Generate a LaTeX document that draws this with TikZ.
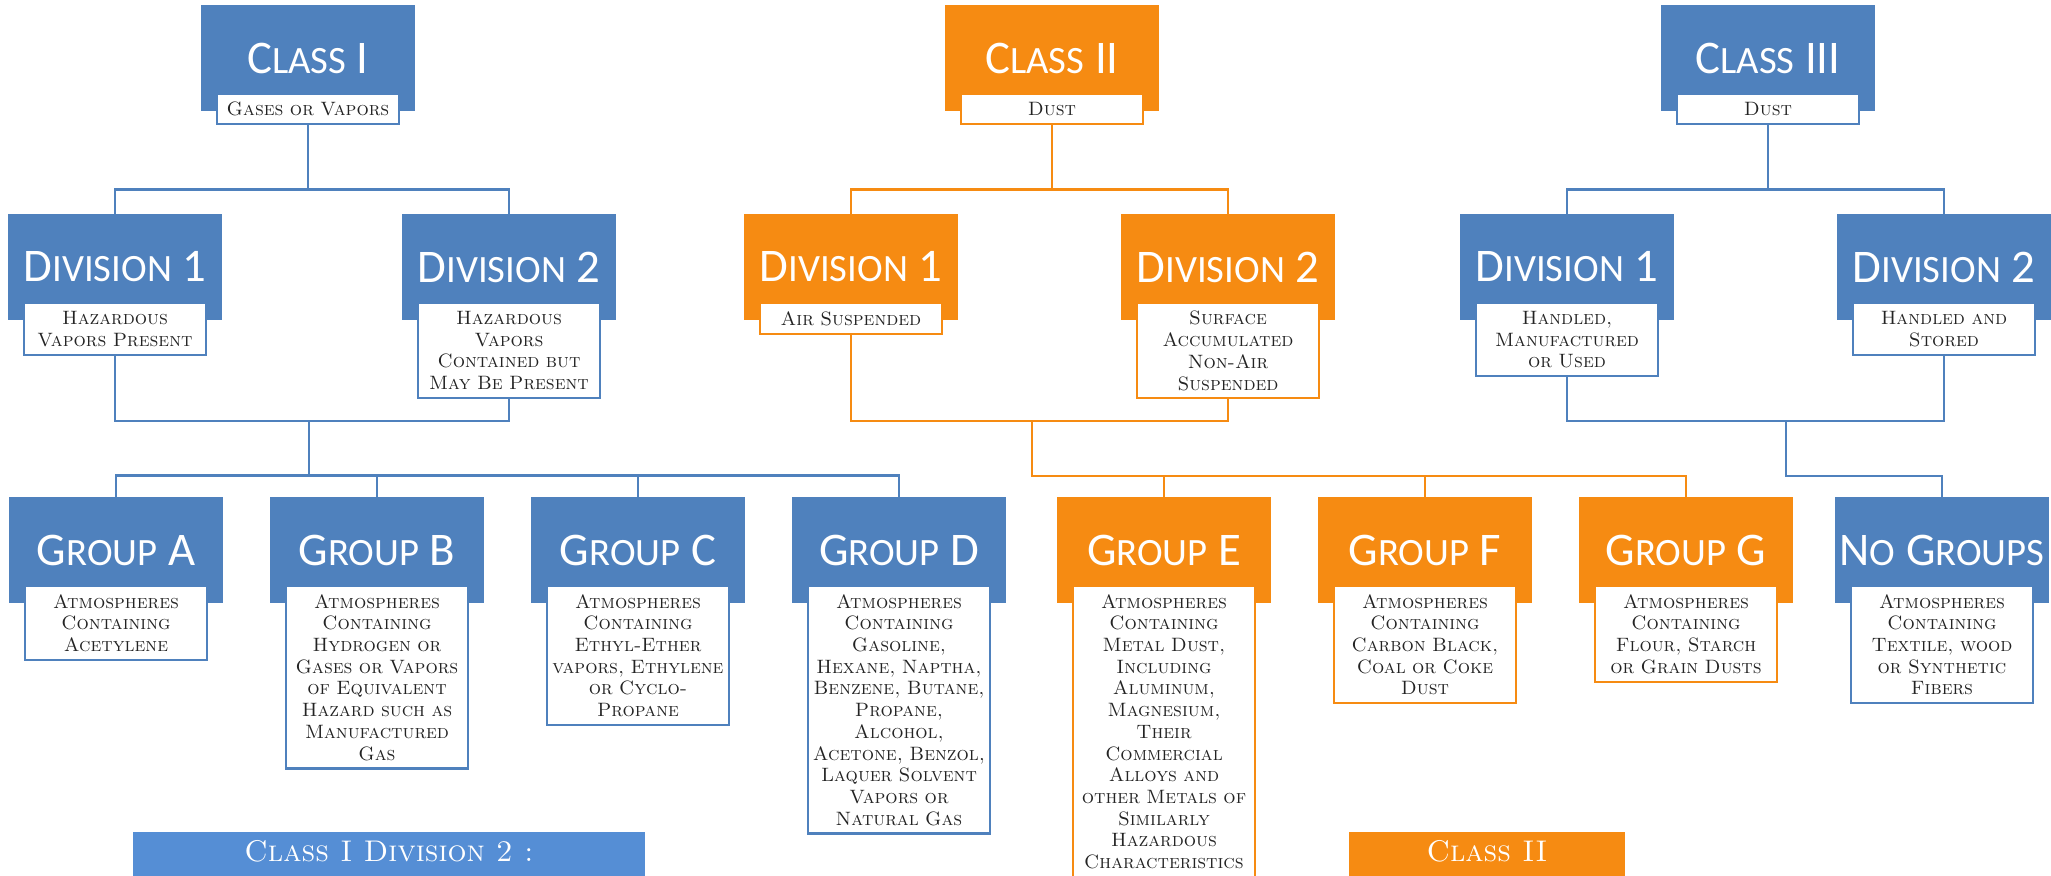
\documentclass[tikz,border=0pt]{standalone}
\usepackage{fontspec}
\newfontfamily\ttlfont{Carlito}
\usetikzlibrary{positioning}
\definecolor{clsblue}{RGB}{79,129,189}
\definecolor{clsorange}{RGB}{246,139,18}
\definecolor{keyblue}{RGB}{85,142,213}
\definecolor{desctext}{RGB}{35,35,35}
\def\lowcap#1{{\fontsize{11}{13}\selectfont\MakeUppercase{#1}}}
\tikzset{
  head/.style={rectangle, fill=#1, text=white, minimum width=2.13cm, minimum height=1.05cm, inner sep=0pt, font=\ttlfont\fontsize{13.3}{15}\selectfont},
  desc/.style={rectangle, fill=white, draw=#1, line width=0.6pt, text width=1.76cm, align=center, inner xsep=0.03cm, inner ysep=0.08cm, text=desctext, font=\fontsize{5.5}{6.17}\selectfont\scshape},
  link/.style={draw=#1, line width=0.8pt},
  keytext/.style={text=white, font=\fontsize{8.5}{9}\selectfont\scshape},
}

\begin{document}
\begin{tikzpicture}[x=0.01cm,y=-0.01cm]
			%%%%% START %%%%%
			\useasboundingbox (0,0) rectangle (2051,876);
			\clip (0,0) rectangle (2051,876);
			
			% classes
			\node[head=clsblue] (c1) at (308,58) {C\lowcap{lass} I};
			\node[desc=clsblue, below=-0.18cm of c1] (c1t) {Gases or Vapors};
			\node[head=clsorange] (c2) at (1052,58) {C\lowcap{lass} II};
			\node[desc=clsorange, below=-0.18cm of c2] (c2t) {Dust};
			\node[head=clsblue] (c3) at (1768,58) {C\lowcap{lass} III};
			\node[desc=clsblue, below=-0.18cm of c3] (c3t) {Dust};
			
			% divisions
			\node[head=clsblue] (c1a) at (115,267) {D\lowcap{ivision} 1};
			\node[desc=clsblue, below=-0.18cm of c1a] (c1at) {Hazardous\\Vapors Present};
			\node[head=clsblue] (c1b) at (509,267) {D\lowcap{ivision} 2};
			\node[desc=clsblue, below=-0.18cm of c1b] (c1bt) {Hazardous\\Vapors\\Contained but\\May Be Present};
			
			\node[head=clsorange] (c2a) at (851,267) {D\lowcap{ivision} 1};
			\node[desc=clsorange, below=-0.18cm of c2a] (c2at) {Air Suspended};
			\node[head=clsorange] (c2b) at (1228,267) {D\lowcap{ivision} 2};
			\node[desc=clsorange, below=-0.18cm of c2b] (c2bt) {Surface\\Accumulated\\Non-Air\\Suspended};
			
			\node[head=clsblue] (c3a) at (1567,267) {D\lowcap{ivision} 1};
			\node[desc=clsblue, below=-0.18cm of c3a] (c3at) {Handled,\\Manufactured\\or Used};
			\node[head=clsblue] (c3b) at (1944,267) {D\lowcap{ivision} 2};
			\node[desc=clsblue, below=-0.18cm of c3b] (c3bt) {Handled and\\Stored};
			
			% groups
			\node[head=clsblue] (ga) at (116,550) {G\lowcap{roup} A};
			\node[desc=clsblue, below=-0.18cm of ga] (gat) {Atmospheres\\Containing\\Acetylene};
			\node[head=clsblue] (gb) at (377,550) {G\lowcap{roup} B};
			\node[desc=clsblue, below=-0.18cm of gb] (gbt) {Atmospheres\\Containing\\Hydrogen or\\Gases or Vapors\\of Equivalent\\Hazard such as\\Manufactured\\Gas};
			\node[head=clsblue] (gc) at (638,550) {G\lowcap{roup} C};
			\node[desc=clsblue, below=-0.18cm of gc] (gct) {Atmospheres\\Containing\\Ethyl-Ether\\vapors, Ethylene\\or Cyclo-\\Propane};
			\node[head=clsblue] (gd) at (899,550) {G\lowcap{roup} D};
			\node[desc=clsblue, below=-0.18cm of gd] (gdt) {Atmospheres\\Containing\\Gasoline,\\Hexane, Naptha,\\Benzene, Butane,\\Propane,\\Alcohol,\\Acetone, Benzol,\\Laquer Solvent\\Vapors or\\Natural Gas};
			
			\node[head=clsorange] (ge) at (1164,550) {G\lowcap{roup} E};
			\node[desc=clsorange, below=-0.18cm of ge] (get) {Atmospheres\\Containing\\Metal Dust,\\Including\\Aluminum,\\Magnesium,\\Their\\Commercial\\Alloys and\\other Metals of\\Similarly\\Hazardous\\Characteristics};
			\node[head=clsorange] (gf) at (1425,550) {G\lowcap{roup} F};
			\node[desc=clsorange, below=-0.18cm of gf] (gft) {Atmospheres\\Containing\\Carbon Black,\\Coal or Coke\\Dust};
			\node[head=clsorange] (gg) at (1686,550) {G\lowcap{roup} G};
			\node[desc=clsorange, below=-0.18cm of gg] (ggt) {Atmospheres\\Containing\\Flour, Starch\\or Grain Dusts};
			
			\node[head=clsblue] (gn) at (1942,550) {N\lowcap{o} G\lowcap{roups}};
			\node[desc=clsblue, below=-0.18cm of gn] (gnt) {Atmospheres\\Containing\\Textile, wood\\or Synthetic\\Fibers};
			
			% class -> divisions
			\draw[link=clsblue] (c1t.south) -- ++(0,66);
			\draw[link=clsblue] (c1a.north) -- ++(0,-24) -| (c1b.north);
			\draw[link=clsorange] (c2t.south) -- ++(0,66);
			\draw[link=clsorange] (c2a.north) -- ++(0,-24) -| (c2b.north);
			\draw[link=clsblue] (c3t.south) -- ++(0,66);
			\draw[link=clsblue] (c3a.north) -- ++(0,-24) -| (c3b.north);
			
			% divisions -> groups
			\coordinate (j1) at (309,421);
			\draw[link=clsblue] (c1at.south) |- (j1) -| (c1bt.south);
			\draw[link=clsblue] (j1) -- ++(0,55);
			\draw[link=clsblue] (ga.north) -- ++(0,-21) -| (gd.north);
			\draw[link=clsblue] (gb.north) -- ++(0,-21);
			\draw[link=clsblue] (gc.north) -- ++(0,-21);
			
			\coordinate (j2) at (1032,421);
			\draw[link=clsorange] (c2at.south) |- (j2) -| (c2bt.south);
			\draw[link=clsorange] (j2) -- ++(0,55) -| (gg.north);
			\draw[link=clsorange] (ge.north) -- ++(0,-21);
			\draw[link=clsorange] (gf.north) -- ++(0,-21);
			
			\coordinate (j3) at (1786,421);
			\draw[link=clsblue] (c3at.south) |- (j3) -| (c3bt.south);
			\draw[link=clsblue] (j3) -- ++(0,55) -| (gn.north);
			
			% key boxes
			\fill[keyblue] (133,832) rectangle (645,890);
			\node[keytext] (k1) at (389,851) {Class I Division 2 :};
			\fill[clsorange] (1349,832) rectangle (1625,890);
			\node[keytext] (k2) at (1487,851) {Class II};
			
			%%%%% END %%%%%
\end{tikzpicture}
\end{document}
